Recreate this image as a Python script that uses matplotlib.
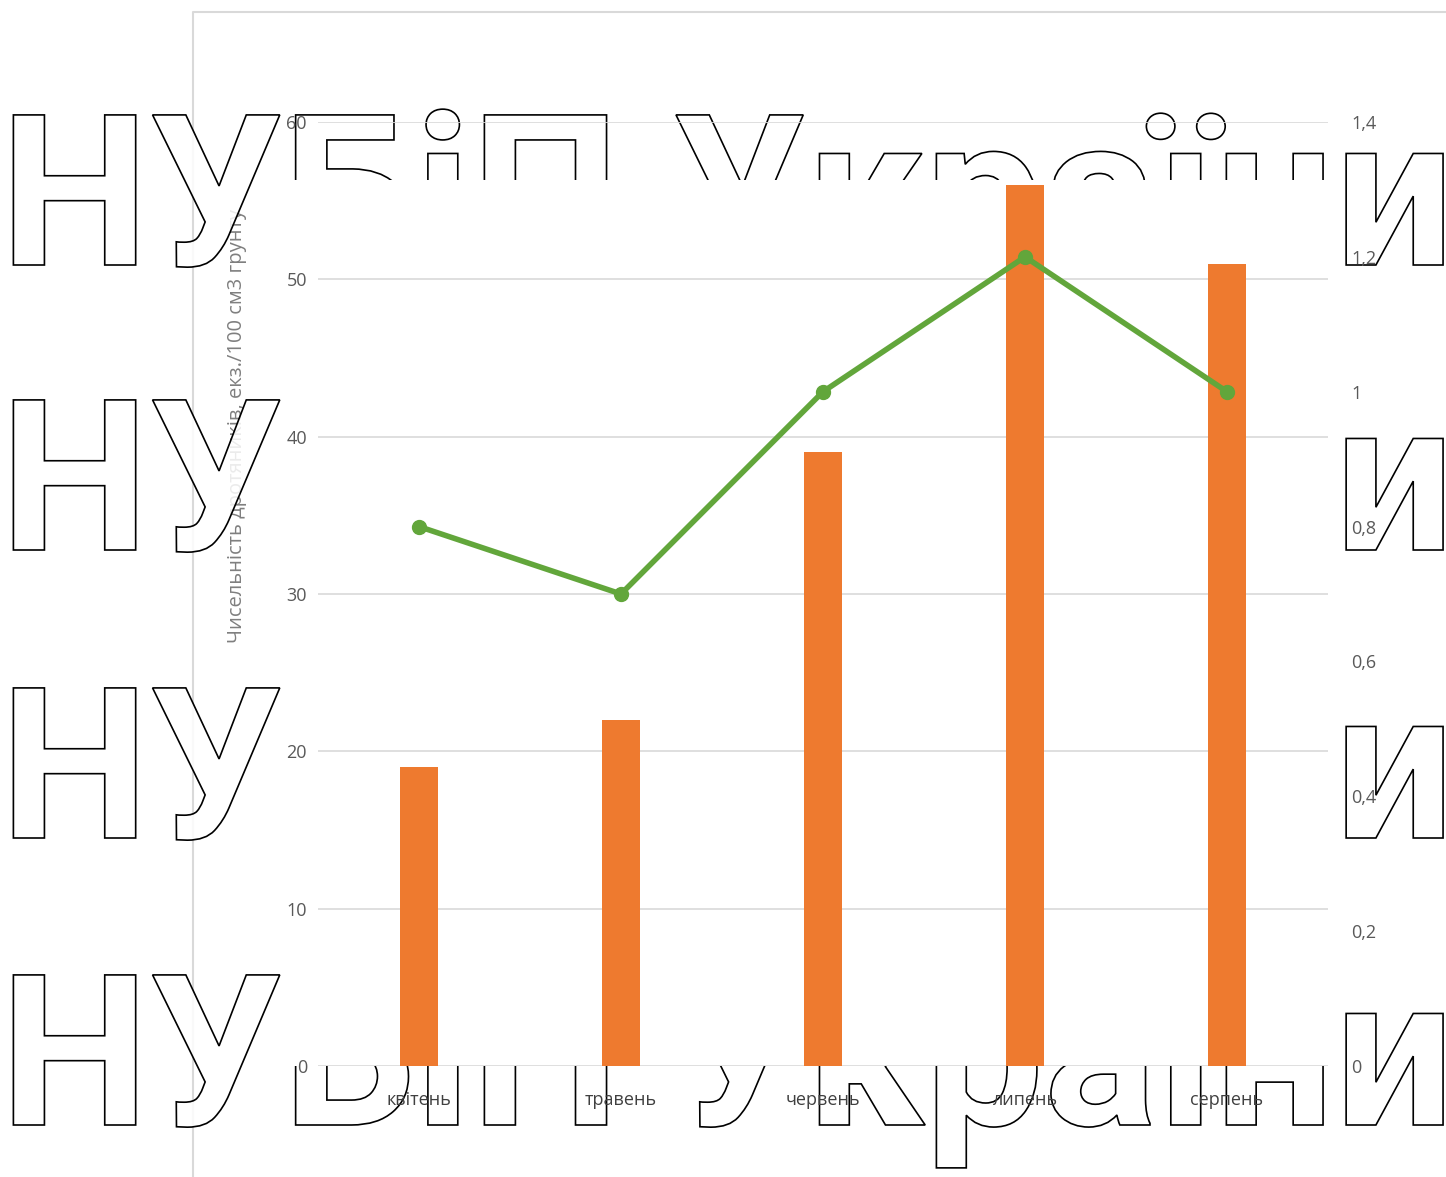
import matplotlib
matplotlib.use("Agg")
import matplotlib.pyplot as plt
from matplotlib import patheffects as pe
from matplotlib.transforms import Bbox, TransformedBbox
import numpy as np

months = ["квітень", "травень", "червень", "липень", "серпень"]
bar_values = [19, 22, 39, 56, 51]
line_values = [0.8, 0.7, 1.0, 1.2, 1.0]
left_ticks = [0, 10, 20, 30, 40, 50, 60]
right_ticks = [0, 0.2, 0.4, 0.6, 0.8, 1.0, 1.2, 1.4]
right_tick_labels = ["0", "0,2", "0,4", "0,6", "0,8", "1", "1,2", "1,4"]
ylabel_text = "Чисельність дротяників, екз./100 см3 грунту"
watermark = "НУБіП України"

W, H = 1446, 1177
fig = plt.figure(figsize=(W / 100, H / 100), dpi=100)
fig.patch.set_facecolor("white")

def fx(px):
    return px / W

def fy(py):
    return 1 - py / H

# outer chart border
border = fig.add_axes([0, 0, 1, 1], zorder=0)
border.set_xlim(0, W)
border.set_ylim(H, 0)
border.axis("off")
border.plot([193, 193, W + 5], [H + 5, 12, 12], color="#d9d9d9", lw=1.5)

ax = fig.add_axes([fx(318), fy(1066), fx(1328) - fx(318), fy(122) - fy(1066)], zorder=12)
ax.set_facecolor("none")
x = np.arange(len(months))
ax.bar(x, bar_values, width=0.19, color="#EE7A2F", zorder=3)
ax.set_xlim(-0.5, len(months) - 0.5)
ax.set_ylim(0, 60)
ax.set_yticks(left_ticks)
ax.set_yticklabels([str(v) for v in left_ticks])
ax.set_xticks(x)
ax.set_xticklabels(months)
ax.grid(axis="y", color="#d9d9d9", lw=1.2, zorder=0)
ax.set_axisbelow(True)
for s in ax.spines.values():
    s.set_visible(False)
ax.tick_params(axis="y", length=0, pad=8, labelsize=13, labelcolor="#595959")
ax.tick_params(axis="x", length=0, pad=18, labelsize=13, labelcolor="#404040")
for lab in ax.get_xticklabels() + ax.get_yticklabels():
    lab.set_fontfamily("Open Sans")

ax2 = ax.twinx()
ax2.set_facecolor("none")
ax2.plot(x, line_values, color="#62A63B", lw=4, marker="o", markersize=10, zorder=4)
ax2.set_ylim(0, 1.4)
ax2.set_yticks(right_ticks)
ax2.set_yticklabels(right_tick_labels)
for s in ax2.spines.values():
    s.set_visible(False)
ax2.tick_params(axis="y", length=0, pad=17, labelsize=13, labelcolor="#595959")
for lab in ax2.get_yticklabels():
    lab.set_fontfamily("Open Sans")

fig.text(fx(237), fy(643), ylabel_text, rotation=90, ha="center", va="bottom",
         fontsize=14.5, color="#7f7f7f", family="Open Sans", zorder=5)

# watermark (outside the white plot region)
rows_baseline = [265, 550, 838, 1125]
regions = [
    (0, 0, W, 180),         # top strip
    (0, 1066, W, H),        # bottom strip
    (0, 180, 289, 1066),    # left
    (1332, 180, W, 1066),   # right
]
for base in rows_baseline:
    for (x0, y0, x1, y1) in regions:
        t = fig.text(fx(0), fy(base), watermark, fontsize=152, fontweight="bold",
                     family="Roboto", ha="left", va="baseline", zorder=10)
        t.set_path_effects([pe.PathPatchEffect(facecolor=(1, 1, 1, 0.85),
                                               edgecolor="black", linewidth=1.2)])
        bb = Bbox.from_extents(fx(x0), fy(y1), fx(x1), fy(y0))
        t.set_clip_box(TransformedBbox(bb, fig.transFigure))
        t.set_clip_on(True)

fig.savefig("out.png", dpi=100)
